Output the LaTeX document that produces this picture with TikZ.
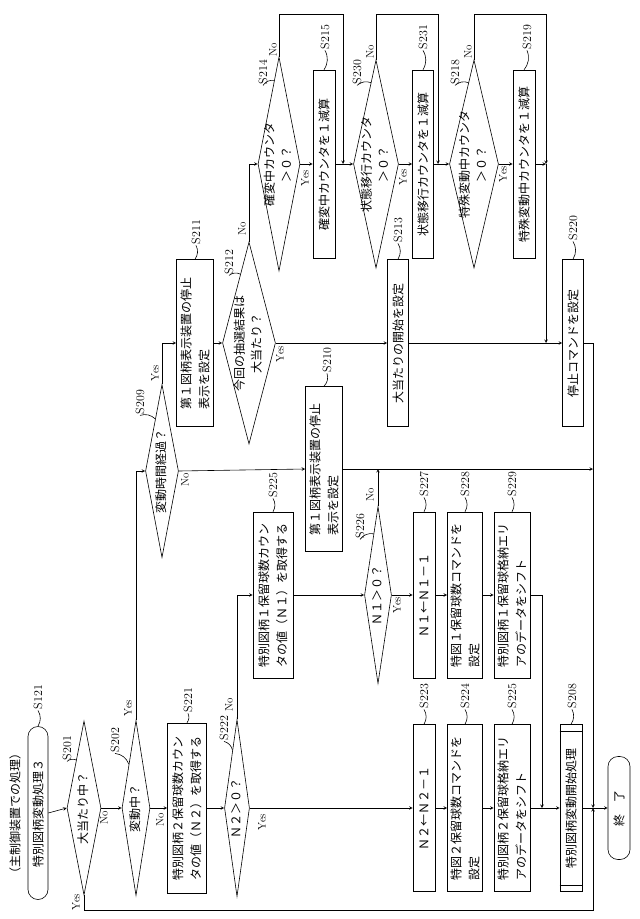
\documentclass[tikz,border=0pt]{standalone}
\usepackage{fontspec}
\newfontfamily\jp{Noto Sans CJK JP}
\usetikzlibrary{shapes.geometric,calc}
\newcommand\dtext[1]{\makebox[0pt]{\smash{\raisebox{-3pt}{\begin{tabular}{@{}c@{}}#1\end{tabular}}}}}
\tikzset{
  box/.style={draw, rotate=90, inner sep=3pt, align=left, font=\jp\fontsize{12}{18}\selectfont},
  term/.style={box, rounded corners=10pt},
  dia/.style={draw, diamond, rotate=90, inner sep=0pt, font=\jp\fontsize{12}{17}\selectfont},
  stepl/.style={rotate=90, inner sep=1pt, font=\fontsize{12}{13}\selectfont},
  yn/.style={rotate=90, inner sep=1pt, font=\fontsize{11}{12}\selectfont},
}
\begin{document}
\begin{tikzpicture}[x=1pt, y=-1pt, line width=0.6pt, >=stealth]
    \useasboundingbox (0,0) rectangle (640,919);

    % Main column
    \node[rotate=90, font=\jp\fontsize{12}{14}\selectfont] (note) at (15,813) {（主制御装置での処理）};
    \node[term, minimum width=173, minimum height=20] (start) at (38,813) {特別図柄変動処理３};
    \node[dia, minimum width=174, minimum height=34] (d201) at (84,808) {\dtext{大当たり中？}};
    \node[dia, minimum width=175, minimum height=28] (d202) at (136,808) {\dtext{変動中？}};
    \node[box, minimum width=170, minimum height=39] (s221) at (187,808) {特別図柄２保留球数カウン\\タの値（Ｎ２）を取得する};
    \node[dia, minimum width=177, minimum height=25] (d222) at (237,808) {\dtext{Ｎ２＞０？}};
    \node[box, minimum width=167, minimum height=22] (s223) at (424,808) {Ｎ２←Ｎ２－１};
    \node[box, minimum width=167, minimum height=34] (s224) at (465,808) {特図２保留球数コマンドを\\設定};
    \node[box, minimum width=167, minimum height=36] (s225b) at (512,808) {特別図柄２保留球格納エリ\\アのデータをシフト};
    \node[box, minimum width=167, minimum height=22] (s208) at (571,808) {特別図柄変動開始処理};
    \node[term, minimum width=103, minimum height=22] (end) at (619,808) {終　了};

    % N1 column
    \node[box, minimum width=166, minimum height=40] (s225a) at (273,595) {特別図柄１保留球数カウン\\タの値（Ｎ１）を取得する};
    \node[dia, minimum width=177, minimum height=27] (d226) at (378,595) {\dtext{Ｎ１＞０？}};
    \node[box, minimum width=166, minimum height=22] (s227) at (424,595) {Ｎ１←Ｎ１－１};
    \node[box, minimum width=166, minimum height=34] (s228) at (465,595) {特図１保留球数コマンドを\\設定};
    \node[box, minimum width=166, minimum height=36] (s229) at (512,595) {特別図柄１保留球格納エリ\\アのデータをシフト};

    % Stop column
    \node[dia, minimum width=173, minimum height=33] (d209) at (162,471) {\dtext{変動時間経過？}};
    \node[box, minimum width=165, minimum height=37] (s210) at (324,469) {第１図柄表示装置の停止\\表示を設定};
    \node[box, minimum width=167, minimum height=37] (s211) at (195,343) {第１図柄表示装置の停止\\表示を設定};
    \node[dia, minimum width=202, minimum height=53] (d212) at (249,343) {\dtext{今回の抽選結果は\\大当たり？}};
    \node[box, minimum width=167, minimum height=21] (s213) at (398,343) {大当たりの開始を設定};
    \node[box, minimum width=167, minimum height=21] (s220) at (573,343) {停止コマンドを設定};

    % Counter row
    \node[dia, minimum width=214, minimum height=42] (d214) at (279,164) {\dtext{確変中カウンタ\\＞０？}};
    \node[box, minimum width=188, minimum height=22] (s215) at (324,164) {確変中カウンタを１減算};
    \node[dia, minimum width=208, minimum height=45] (d230) at (376,164) {\dtext{状態移行カウンタ\\＞０？}};
    \node[box, minimum width=188, minimum height=21] (s231) at (423,164) {状態移行カウンタを１減算};
    \node[dia, minimum width=208, minimum height=49] (d218) at (474,164) {\dtext{特殊変動中カウンタ\\＞０？}};
    \node[box, minimum width=188, minimum height=22] (s219) at (524,164) {特殊変動中カウンタを１減算};

    % Predefined process bars
    \draw ([yshift=7pt]s208.north west) -- ([yshift=7pt]s208.south west);
    \draw ([yshift=-7pt]s208.north east) -- ([yshift=-7pt]s208.south east);

    % Junctions
    \coordinate (top) at (0,14);
    \coordinate (j1) at (343,164);
    \coordinate (j2) at (438,164);
    \coordinate (j3) at (546,164);
    \coordinate (m1) at (542,808);
    \coordinate (jn) at (593,808);
    \coordinate (bot) at (593,910);

    % Arrows
    \draw[->] (start.south) -- (d201.north);
    \draw[->] (d201.south) -- (d202.north);
    \draw[->] (d201.west) |- (bot) -- (jn);
    \draw[->] (d202.south) -- (s221.north);
    \draw[->] (d202.east) |- (d209.north);
    \draw[->] (s221.south) -- (d222.north);
    \draw[->] (d222.south) -- (s223.north);
    \draw[->] (d222.east) |- (s225a.north);
    \draw[->] (s225a.south) -- (d226.north);
    \draw[->] (d226.south) -- (s227.north);
    \draw[->] (d226.east) -- (d226.east |- s210.south);
    \draw[->] (s227.south) -- (s228.north);
    \draw[->] (s228.south) -- (s229.north);
    \draw[->] (s229.south) -| (m1);
    \draw[->] (s223.south) -- (s224.north);
    \draw[->] (s224.south) -- (s225b.north);
    \draw[->] (s225b.south) -- (s208.north);
    \draw (s208.south) -- (jn);
    \draw[->] (jn) -- (end.north);
    \draw[->] (d209.south) -- (s210.north);
    \draw[->] (s210.south) -- (jn |- s210.south);
    \draw[->] (d209.east) |- (s211.north);
    \draw[->] (s211.south) -- (d212.north);
    \draw[->] (d212.south) -- (s213.north);
    \draw[->] (s213.south) -- (s220.north);
    \draw[->] (s220.south) -| (jn);
    \draw[->] (d212.east) |- (d214.north);
    \draw[->] (d214.south) -- (s215.north);
    \draw[->] (s215.south) -- (d230.north);
    \draw[->] (d214.east) -- (d214.east |- top) -| (j1);
    \draw[->] (d230.south) -- (s231.north);
    \draw[->] (s231.south) -- (d218.north);
    \draw[->] (d230.east) -- (d230.east |- top) -| (j2);
    \draw[->] (d218.south) -- (s219.north);
    \draw[->] (s219.south) -- (j3);
    \draw[->] (d218.east) -- (d218.east |- top) -| (j3);
    \draw[->] (j3) -- (j3 |- s220.north);

    % Yes / No
    \node[yn] (y201) at (76,902) {Yes};
    \node[yn] (n201) at (104,818) {No};
    \node[yn] (y202) at (128,708) {Yes};
    \node[yn] (n202) at (160,820) {No};
    \node[yn] (y222) at (262,822) {Yes};
    \node[yn] (n222) at (229,705) {No};
    \node[yn] (y226) at (397,605) {Yes};
    \node[yn] (n226) at (370,495) {No};
    \node[yn] (y209) at (155,373) {Yes};
    \node[yn] (n209) at (185,480) {No};
    \node[yn] (y212) at (280,354) {Yes};
    \node[yn] (n212) at (242,229) {No};
    \node[yn] (y214) at (305,178) {Yes};
    \node[yn] (n214) at (273,50) {No};
    \node[yn] (y230) at (403,177) {Yes};
    \node[yn] (n230) at (370,52) {No};
    \node[yn] (y218) at (503,174) {Yes};
    \node[yn] (n218) at (468,52) {No};

    % Step labels
    \node[stepl] (l121) at (38,697) {S121};
    \node[stepl] (l201) at (67,748) {S201};
    \node[stepl] (l202) at (115,740) {S202};
    \node[stepl] (l221) at (188,700) {S221};
    \node[stepl] (l222) at (224,728) {S222};
    \node[stepl] (l225a) at (273,485) {S225};
    \node[stepl] (l226) at (360,526) {S226};
    \node[stepl] (l227) at (424,484) {S227};
    \node[stepl] (l228) at (465,484) {S228};
    \node[stepl] (l229) at (512,484) {S229};
    \node[stepl] (l223) at (424,696) {S223};
    \node[stepl] (l224) at (465,696) {S224};
    \node[stepl] (l225b) at (512,696) {S225};
    \node[stepl] (l208) at (572,696) {S208};
    \node[stepl] (l209) at (140,402) {S209};
    \node[stepl] (l210) at (327,360) {S210};
    \node[stepl] (l211) at (196,232) {S211};
    \node[stepl] (l212) at (229,262) {S212};
    \node[stepl] (l213) at (398,230) {S213};
    \node[stepl] (l220) at (573,228) {S220};
    \node[stepl] (l214) at (263,72) {S214};
    \node[stepl] (l215) at (325,37) {S215};
    \node[stepl] (l230) at (357,72) {S230};
    \node[stepl] (l231) at (423,37) {S231};
    \node[stepl] (l218) at (455,72) {S218};
    \node[stepl] (l219) at (527,37) {S219};

    % Leaders
    \foreach \l/\b in {l121/start, l221/s221, l225a/s225a, l227/s227, l228/s228, l229/s229,
                       l223/s223, l224/s224, l225b/s225b, l208/s208, l210/s210, l211/s211,
                       l213/s213, l220/s220, l215/s215, l231/s231, l219/s219}
      \draw (\l.west) to[bend left=30] (\b.east);
    \foreach \l/\d/\t in {l201/d201/0.55, l202/d202/0.5, l222/d222/0.65, l226/d226/0.69,
                          l209/d209/0.6, l212/d212/0.68, l214/d214/0.78, l230/d230/0.78, l218/d218/0.78}
      \draw (\l.west) to[bend left=30] ($(\d.north)!\t!(\d.east)$);

\end{tikzpicture}
\end{document}
